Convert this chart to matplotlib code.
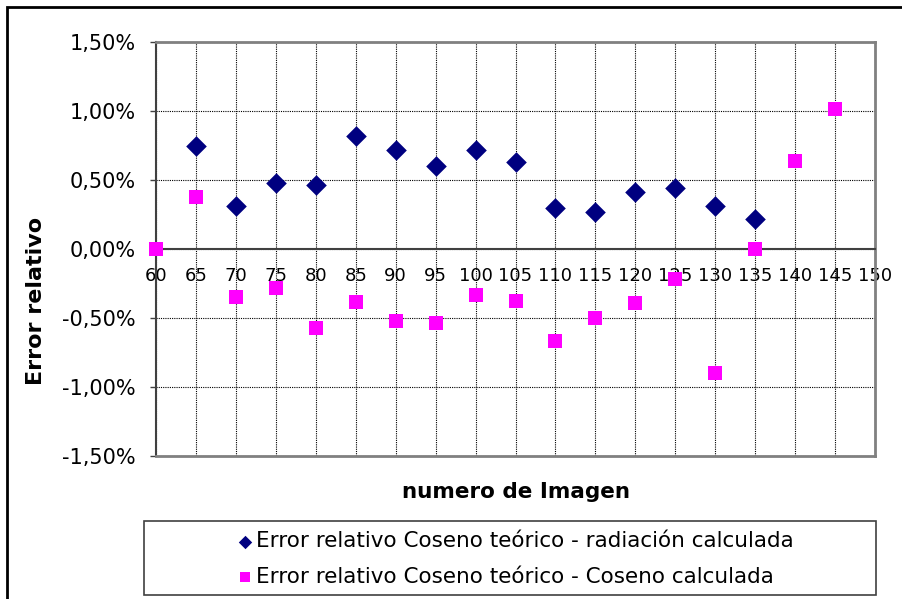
import numpy as np
import matplotlib.pyplot as plt
from matplotlib.patches import Rectangle
from matplotlib.ticker import FuncFormatter, MultipleLocator

# numero de imagen
imagen = [60, 65, 70, 75, 80, 85, 90, 95, 100, 105, 110, 115, 120, 125, 130, 135, 140, 145]
x_rad = imagen[1:16]

# error relativo (en %)
err_radiacion = [0.75, 0.31, 0.48, 0.465, 0.82, 0.72, 0.60, 0.715, 0.63,
                 0.30, 0.27, 0.415, 0.44, 0.315, 0.215]
err_coseno = [0.0, 0.38, -0.35, -0.28, -0.57, -0.385, -0.525, -0.535, -0.335,
              -0.38, -0.665, -0.50, -0.39, -0.215, -0.90, 0.0, 0.635, 1.015]

lbl_rad = "Error relativo Coseno teórico - radiación calculada"
lbl_cos = "Error relativo Coseno teórico - Coseno calculada"

W, H = 902, 599
fig = plt.figure(figsize=(W / 100, H / 100), dpi=100)
ax = fig.add_axes([156 / W, 1 - 456 / H, (875 - 156) / W, (456 - 42) / H])

ax.scatter(x_rad, err_radiacion, marker="D", s=10.5 ** 2, color="#000080",
           linewidths=0, zorder=4, clip_on=False, label=lbl_rad)
ax.scatter(imagen, err_coseno, marker="s", s=10 ** 2, color="#FF00FF",
           linewidths=0, zorder=4, clip_on=False, label=lbl_cos)

ax.set_xlim(60, 150)
ax.set_ylim(-1.5, 1.5)
ax.xaxis.set_major_locator(MultipleLocator(5))
ax.yaxis.set_major_locator(MultipleLocator(0.5))
ax.yaxis.set_major_formatter(FuncFormatter(lambda v, p: f"{v:.2f}%".replace(".", ",")))

ax.grid(True, color="black", linestyle=(0, (1, 1)), linewidth=0.8)
ax.set_axisbelow(True)

for side in ["top", "right"]:
    ax.spines[side].set_color("#808080")
    ax.spines[side].set_linewidth(2)
ax.spines["left"].set_color("#404040")
ax.spines["left"].set_linewidth(1.5)
ax.spines["bottom"].set_position(("data", 0))
ax.spines["bottom"].set_color("#404040")
ax.spines["bottom"].set_linewidth(1.5)
ax.axhline(-1.5, color="#808080", linewidth=2, clip_on=False, zorder=3)

ax.tick_params(axis="x", length=0, pad=13, labelsize=13)
ax.tick_params(axis="y", length=4.5, width=1, color="#404040", pad=10, labelsize=15)

fig.text(36 / W, 1 - 301 / H, "Error relativo", rotation=90, fontsize=16,
         fontweight="bold", ha="center", va="center")
fig.text(516 / W, 1 - 492 / H, "numero de Imagen", fontsize=15.5,
         fontweight="bold", ha="center", va="center")

# caja de la leyenda
fig.patches.append(Rectangle((144 / W, 1 - 595 / H), (876 - 144) / W, (595 - 521) / H,
                             transform=fig.transFigure, facecolor="white",
                             edgecolor="#404040", linewidth=1.2))
handles, labels = ax.get_legend_handles_labels()
leg = fig.legend(handles, labels, loc="center", bbox_to_anchor=(515 / W, 1 - 559 / H),
                 frameon=False, fontsize=15.5, handletextpad=0.1, handlelength=0.8,
                 labelspacing=0.7, markerscale=0.65, borderpad=0)

# marco exterior
fig.patches.append(Rectangle((7 / W, -0.05), 1.1, 1 - 7 / H + 0.05,
                             transform=fig.transFigure, fill=False,
                             edgecolor="black", linewidth=2))

fig.savefig("out.png", dpi=100)
